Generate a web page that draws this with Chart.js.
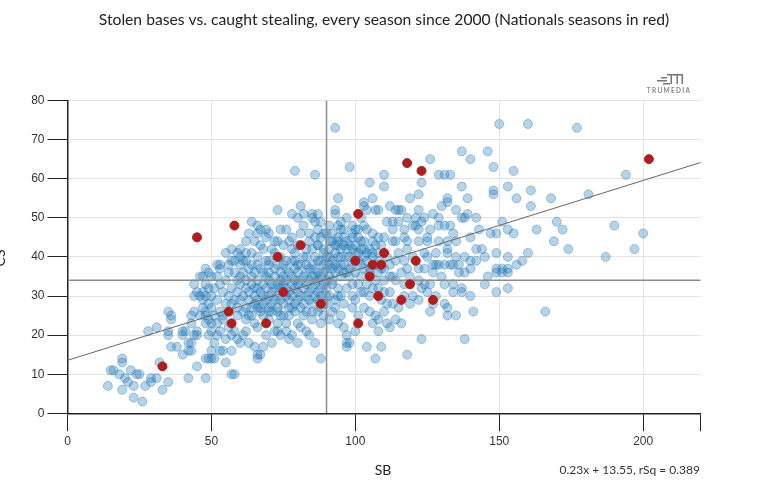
<!DOCTYPE html>
<html>
<head>
<meta charset="utf-8">
<script src="https://cdn.jsdelivr.net/npm/chart.js@4"></script>
<style>body{margin:0;background:#fff}</style>
</head>
<body>
<canvas id="myChart" width="770" height="499"></canvas>
<script>
// [SB, CS] per team season
const otherSeasons = [
  [14,7],[15,11],[16,11],[18,10],[19,14],[19,13],[20,9],[21,8],[19,6],[22,11],[23,7],[23,4],[24,10],[25,10],[26,3],[27,7],[29,9],[29,8],[31,9],[33,6],[32,13],[35,8],[42,9],[45,12],
  [28,21],[31,22],[35,26],[36,25],[36,24],[35,21],[35,20],[36,17],[38,17],[40,21],[40,15],[42,18],[43,16],[42,16],[43,18],[45,21],[43,25],[43,23],[44,26],[44,20],[45,20],[40,20],[41,21],
  [46,25],[47,27],[44,30],[45,31],[46,30],[47,31],[47,29],[44,33],[46,35],[47,35],[48,33],[49,32],[48,30],[49,28],[48,26],[49,24],[50,27],[49,36],[50,35],[48,37],
  [48,9],[48,14],[49,14],[50,14],[51,14],[50,16],[53,16],[54,16],[51,18],[50,21],[52,20],[49,20],[48,23],[50,23],[52,23],[48,25],[51,25],[53,26],[54,25],[54,24],[55,13],[57,16],[57,10],[58,10],[57,20],[58,21],[59,19],[60,18],[59,25],[56,22],[55,19],[53,21],
  [61,20],[62,21],[63,18],[65,17],[66,14],[66,15],[67,15],[68,17],[71,18],[65,23],[66,22],[72,21],[73,21],[74,20],[76,21],[78,20],[73,23],[74,25],[77,25],[80,23],[81,22],[83,21],[84,20],[86,18],[88,14],[87,26],[89,25],[88,23],[77,19],[80,18],[64,25],[67,26],[70,24],[62,24],[69,20],[79,26],[82,25],[85,24],[76,23],[71,26],
  [92,26],[93,27],[95,25],[97,20],[98,18],[97,17],[97,18],[101,25],[103,27],[105,26],[107,25],[108,21],[109,17],[111,23],[107,14],[104,17],[96,22],[91,24],[100,21],[94,23],[99,27],[106,23],[108,24],[112,22],[110,26],
  [116,23],[114,24],[119,28],[122,29],[131,28],[134,31],[137,31],[137,32],[126,26],[132,27],[132,25],[135,25],[141,26],[138,19],[123,19],[118,15],[166,26],[149,31],[153,32],[124,33],[123,32],[125,31],[120,30],[134,33],[131,33],[117,33],[114,34],[112,31],[113,28],[117,30],[128,30],[127,28],[140,30],[145,33],[115,27],
  [110,31],[106,32],[107,34],[109,29],[103,31],[99,30],[95,30],[97,32],[94,32],[90,32],[99,33],[98,35],[95,35],[94,30],[100,29],[102,31],[91,30],[93,29],[96,28],[101,33],[104,33],[110,34],[112,35],[105,30],[92,34],[97,36],[100,36],[102,35],[108,32],[111,28],
  [149,37],[151,37],[153,37],[156,38],[158,39],[153,40],[160,41],[149,41],[142,39],[140,37],[138,36],[136,36],[146,35],[149,36],[151,36],[153,36],[134,38],[131,38],[129,38],[128,38],[130,35],[127,38],[133,38],[136,38],[140,39],[142,42],[144,42],[132,42],[128,41],[125,40],[138,40],[124,41],[118,42],[115,41],[114,39],[117,39],[118,37],[122,37],[124,37],[113,35],[122,34],[126,33],[132,41],[110,45],[113,44],[114,44],[118,44],[122,44],[125,44],[129,44],[132,44],[135,44],[125,45],[120,40],[116,36],[112,38],[119,35],[127,36],[135,40],[145,40],
  [150,74],[160,74],[137,67],[146,67],[140,65],[126,65],[148,63],[155,62],[129,61],[131,61],[133,61],[110,61],[110,58],[123,59],[122,56],[137,58],[148,57],[148,56],[153,58],[161,57],[156,55],[168,55],[139,55],[161,53],[114,52],[115,52],[116,52],[122,52],[132,55],[132,54],[130,53],[135,52],[129,50],[124,50],[121,50],[123,49],[121,48],[129,48],[131,48],[133,48],[137,50],[138,50],[142,50],[139,51],[151,49],[153,47],[155,46],[163,47],[170,49],[169,44],[143,47],[147,46],[149,46],[127,51],[122,47],[120,48],[117,47],[115,49],[113,49],[111,49],[113,47],[118,50],[112,53],[119,55],[126,47],[134,46],[140,45],[117,45],
  [177,73],[194,61],[181,56],[172,47],[174,42],[190,48],[200,46],[197,42],[187,40],
  [93,73],[98,63],[105,59],[106,55],[103,54],[103,53],[94,55],[93,52],[93,51],[97,50],[99,48],[94,48],[101,47],[104,47],[104,52],[108,52],[94,45],[96,45],[99,45],[101,45],[94,43],[96,43],[97,42],[94,44],[97,44],[99,46],[103,44],[105,42],[102,42],[104,41],[108,45],[106,44],[107,43],[90,46],[91,48],[89,46],[89,42],[87,43],[89,41],[90,40],[92,39],[95,40],[96,38],[98,37],[101,39],[103,37],[92,37],[87,39],[85,38],[86,37],[89,38],[85,42],[107,52],[102,50],[96,47],[91,44],[88,45],[100,43],[98,40],[93,41],[108,39],[106,40],[110,37],[88,49],[92,46],[95,49],[100,41],[103,40],[91,42],[87,47],[109,43],[111,40],[108,36],[105,36],[103,48],
  [79,62],[86,61],[81,53],[73,52],[78,51],[82,51],[85,51],[87,51],[85,50],[86,49],[64,49],[66,48],[67,47],[69,47],[66,46],[69,45],[72,44],[73,44],[65,44],[77,44],[78,45],[81,46],[57,42],[62,41],[57,39],[60,40],[64,41],[68,42],[79,41],[78,39],[87,43],[59,41],[61,39],[70,39],[74,40],[76,39],[79,39],[83,38],[71,42],[75,43],[80,43],[83,42],[84,44],[76,47],[82,48],[80,50],[84,46],[70,46],[74,47],[62,44],[63,46],[67,43],[86,45],[78,42],[72,41],[82,40],[66,40],[60,42],[55,41],
  [52,38],[53,37],[52,35],[59,34],[60,35],[64,35],[65,32],[68,36],[70,38],[60,38],[63,37],[53,38],
  [50,30],[51,32],[52,29],[53,33],[54,31],[55,28],[55,34],[56,30],[56,36],[57,32],[57,28],[58,29],[58,36],[59,31],[59,27],[60,29],[60,33],[61,30],[61,36],[62,27],[62,32],[62,34],[63,29],[63,31],[64,27],[64,33],[64,38],[65,28],[65,30],[65,36],[66,29],[66,32],[66,34],[67,27],[67,31],[67,37],[68,28],[68,30],[68,33],[69,29],[69,32],[69,35],[70,27],[70,30],[70,34],[70,36],[71,28],[71,31],[71,33],[72,29],[72,32],[72,35],[72,37],[73,30],[73,33],[73,27],[74,29],[74,32],[74,34],[74,36],[75,28],[75,33],[75,35],[75,38],[76,30],[76,32],[76,34],[77,27],[77,29],[77,31],[77,36],[78,30],[78,33],[78,35],[79,28],[79,32],[79,34],[79,37],[80,29],[80,31],[80,33],[80,36],[81,30],[81,34],[81,38],[82,28],[82,32],[82,35],[83,30],[83,33],[83,36],[84,29],[84,31],[84,34],[84,37],[85,32],[85,35],[85,28],[86,30],[86,33],[86,35],[87,29],[87,31],[87,34],[87,36],[88,30],[88,32],[88,35],[89,28],[89,33],[89,36],[90,30],[90,34],[90,37],[91,35],[91,38],[92,33],[93,36],[94,37],[95,38],[96,36],[56,38],[58,39],[62,39],[66,38],[69,39],[73,38],[76,37],[80,38],[83,40],[86,40],[88,39],
  [61,26],[63,25],[66,27],[68,25],[70,26],[73,26],[75,25],[78,27],[81,27],[83,26],[85,26],[88,27],[90,28],
  [91,40],[93,38],[94,40],[95,42],[97,40],[99,38],[99,42],[100,39],[101,41],[102,38],[103,42],[104,39],[105,37],[106,41],[107,38],[108,41],[109,37],[93,43],[98,43],[102,44],[106,46],[95,47],[100,47],[92,44]
];

const natsSeasons = [
  [33,12],[45,45],[58,48],[56,26],[57,23],[69,23],[73,40],[75,31],[81,43],[88,28],[100,39],[101,51],[101,23],
  [105,35],[106,38],[109,38],[110,41],[108,30],[116,29],[119,33],[121,39],[118,64],[123,62],[127,29],[202,65]
];

const xTickValues = [0, 50, 100, 150, 200, 220];
const xTickLabels = [0, 50, 100, 150, 200];
const yTickValues = [0, 10, 20, 30, 40, 50, 60, 70, 80];

const meanSB = 90;
const meanCS = 34;
const slope = 0.23;
const intercept = 13.55;
const rSq = 0.389;

const titleText = 'Stolen bases vs. caught stealing, every season since 2000 (Nationals seasons in red)';

function toPoints(list) {
  return list.map(p => ({ x: p[0], y: p[1] }));
}

const textPlugin = {
  id: 'texts',
  afterDraw(chart) {
    const c = chart.ctx;
    c.save();
    c.fillStyle = '#222';
    c.textBaseline = 'middle';
    c.textAlign = 'center';
    c.font = '15.7px Lato';
    c.fillText(titleText, 384, 20);

    c.font = '14px Lato';
    c.fillText('SB', 383, 470);

    c.textAlign = 'right';
    c.font = '12px Lato';
    c.fillStyle = '#333';
    c.fillText(slope + 'x + ' + intercept + ', rSq = ' + rSq, 700, 470);

    // y axis title, mostly off the left edge
    c.save();
    c.translate(5, 258);
    c.rotate(-Math.PI / 2);
    c.textAlign = 'center';
    c.textBaseline = 'alphabetic';
    c.font = '14px Lato';
    c.fillStyle = '#222';
    c.fillText('CS', 0, 0);
    c.restore();

    // trumedia logo
    c.fillStyle = '#777';
    c.fillRect(661, 77, 6, 1.5);
    c.fillRect(657, 80, 10, 1.5);
    c.fillRect(663, 83, 7, 1.5);
    c.fillRect(667, 74, 8, 1.5);
    c.fillRect(670.5, 74, 1.5, 10);
    c.fillRect(674, 74, 9, 1.5);
    c.fillRect(676.5, 74, 1.5, 10);
    c.fillRect(681.5, 74, 1.5, 10);
    c.font = 'bold 6.5px Lato';
    c.textAlign = 'center';
    c.letterSpacing = '1.3px';
    c.fillStyle = '#888';
    c.fillText('TRUMEDIA', 669, 91);
    c.restore();
  }
};

var ctx = document.getElementById('myChart').getContext('2d');
var chart = new Chart(ctx, {
  type: 'scatter',
  data: {
    datasets: [
      {
        type: 'line',
        data: [{ x: 0, y: intercept }, { x: 220, y: intercept + slope * 220 }],
        borderColor: '#666',
        borderWidth: 1,
        pointRadius: 0,
        order: 3
      },
      {
        type: 'line',
        data: [{ x: meanSB, y: 0 }, { x: meanSB, y: 80 }],
        borderColor: '#8c8c8c',
        borderWidth: 1.5,
        pointRadius: 0,
        order: 3
      },
      {
        type: 'line',
        data: [{ x: 0, y: meanCS }, { x: 220, y: meanCS }],
        borderColor: '#8c8c8c',
        borderWidth: 1.5,
        pointRadius: 0,
        order: 3
      },
      {
        label: 'Other seasons',
        data: toPoints(otherSeasons),
        backgroundColor: 'rgba(31,119,180,0.32)',
        borderColor: 'rgba(31,119,180,0.38)',
        borderWidth: 1,
        pointRadius: 4.5,
        order: 4
      },
      {
        label: 'Nationals',
        data: toPoints(natsSeasons),
        backgroundColor: '#ad1f1f',
        borderColor: '#ad1f1f',
        borderWidth: 1,
        pointRadius: 4.5,
        order: 1
      }
    ]
  },
  options: {
    responsive: false,
    animation: false,
    layout: { padding: { top: 100.5, right: 69.3, bottom: 0, left: 0 } },
    plugins: { legend: { display: false }, tooltip: { enabled: false }, title: { display: false } },
    scales: {
      x: {
        type: 'linear',
        min: 0,
        max: 220,
        afterBuildTicks: s => { s.ticks = xTickValues.map(v => ({ value: v })); },
        afterFit: s => { s.height = 85.7; },
        ticks: {
          autoSkip: false,
          maxRotation: 0,
          padding: 3,
          color: '#333',
          font: { family: 'Liberation Sans, Arial', size: 12 },
          callback: v => xTickLabels.includes(v) ? String(v) : ''
        },
        grid: {
          color: c => (c.tick && c.tick.value === 220) ? 'rgba(0,0,0,0)' : '#e3e3e3',
          tickColor: '#222',
          tickLength: 18,
          lineWidth: 1
        },
        border: { color: '#222', width: 1.5 }
      },
      y: {
        type: 'linear',
        min: 0,
        max: 80,
        afterBuildTicks: s => { s.ticks = yTickValues.map(v => ({ value: v })); },
        afterFit: s => { s.width = 67.5; },
        ticks: {
          padding: 3,
          color: '#333',
          font: { family: 'Liberation Sans, Arial', size: 12 }
        },
        grid: {
          color: '#e3e3e3',
          tickColor: '#222',
          tickLength: 20,
          lineWidth: 1
        },
        border: { color: '#222', width: 1.5 }
      }
    }
  },
  plugins: [textPlugin]
});
</script>
</body>
</html>
